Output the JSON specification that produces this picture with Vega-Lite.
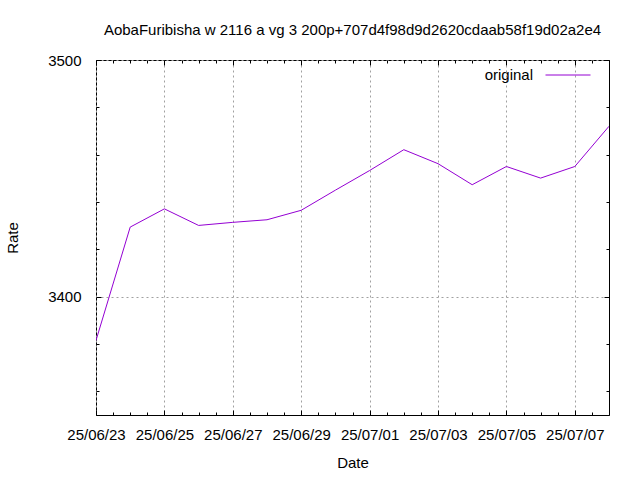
{
  "$schema": "https://vega.github.io/schema/vega-lite/v6.json",
  "autosize": "none",
  "width": 513,
  "height": 355,
  "padding": {"left": 96, "top": 60, "right": 31, "bottom": 65},
  "background": "white",
  "config": {
    "font": "Liberation Sans",
    "view": {"stroke": "#000000", "strokeWidth": 1},
    "axis": {
      "domain": false,
      "labelFont": "Liberation Sans",
      "labelFontSize": 15,
      "labelColor": "#000000",
      "titleFont": "Liberation Sans",
      "titleFontSize": 15,
      "titleFontWeight": "normal",
      "titleColor": "#000000",
      "tickColor": "#000000",
      "tickWidth": 1,
      "gridColor": "#a0a0a0",
      "gridDash": [2, 3],
      "gridWidth": 1,
      "gridOpacity": 1,
      "labelOverlap": false,
      "labelBound": false,
      "labelFlush": false
    },
    "legend": {"labelFont": "Liberation Sans", "labelFontSize": 15, "labelColor": "#000000"}
  },
  "title": {
    "text": "AobaFuribisha w 2116 a vg 3 200p+707d4f98d9d2620cdaab58f19d02a2e4",
    "font": "Liberation Sans",
    "fontSize": 15,
    "fontWeight": "normal",
    "color": "#000000",
    "anchor": "middle",
    "offset": 14
  },
  "data": {
    "values": [
      {"date": "2025-06-23", "rate": 3381.5, "series": "original"},
      {"date": "2025-06-24", "rate": 3429.4, "series": "original"},
      {"date": "2025-06-25", "rate": 3437.1, "series": "original"},
      {"date": "2025-06-26", "rate": 3430.1, "series": "original"},
      {"date": "2025-06-27", "rate": 3431.4, "series": "original"},
      {"date": "2025-06-28", "rate": 3432.5, "series": "original"},
      {"date": "2025-06-29", "rate": 3436.5, "series": "original"},
      {"date": "2025-06-30", "rate": 3445.0, "series": "original"},
      {"date": "2025-07-01", "rate": 3453.3, "series": "original"},
      {"date": "2025-07-02", "rate": 3462.1, "series": "original"},
      {"date": "2025-07-03", "rate": 3456.2, "series": "original"},
      {"date": "2025-07-04", "rate": 3447.3, "series": "original"},
      {"date": "2025-07-05", "rate": 3455.0, "series": "original"},
      {"date": "2025-07-06", "rate": 3450.1, "series": "original"},
      {"date": "2025-07-07", "rate": 3455.0, "series": "original"},
      {"date": "2025-07-08", "rate": 3472.0, "series": "original"}
    ]
  },
  "resolve": {"axis": {"x": "independent", "y": "independent"}},
  "layer": [
    {
      "mark": {"type": "line", "strokeWidth": 1, "clip": true},
      "encoding": {
        "x": {
          "field": "date", "type": "temporal",
          "scale": {"type": "utc", "domain": [1750636800000, 1751932800000]},
          "axis": {
            "orient": "bottom",
            "title": "Date",
            "values": [1750636800000, 1750809600000, 1750982400000, 1751155200000, 1751328000000, 1751500800000, 1751673600000, 1751846400000],
            "labelExpr": "utcFormat(datum.value, '%y/%m/%d')",
            "tickSize": -5,
            "labelPadding": 17,
            "titlePadding": 13,
            "grid": true
          }
        },
        "y": {
          "field": "rate", "type": "quantitative",
          "scale": {"domain": [3350, 3500], "nice": false, "zero": false},
          "axis": {
            "orient": "left",
            "title": "Rate",
            "values": [3400, 3500],
            "format": "d",
            "tickSize": -5,
            "labelPadding": 20,
            "titlePadding": 27,
            "grid": true
          }
        },
        "color": {
          "field": "series", "type": "nominal",
          "scale": {"range": ["#9400d3"]},
          "legend": {
            "title": null,
            "orient": "none",
            "legendX": 449,
            "legendY": -8,
            "symbolType": "stroke",
            "symbolSize": 2025,
            "symbolStrokeWidth": 1,
            "labelAlign": "right",
            "labelOffset": -58,
            "padding": 0
          }
        }
      }
    },
    {
      "mark": {"type": "line", "strokeOpacity": 0},
      "encoding": {
        "x": {
          "field": "date", "type": "temporal",
          "axis": {
            "orient": "bottom", "title": null, "labels": false, "grid": false, "tickSize": -3,
            "values": [1750636800000, 1750680000000, 1750723200000, 1750766400000, 1750809600000, 1750852800000, 1750896000000, 1750939200000, 1750982400000, 1751025600000, 1751068800000, 1751112000000, 1751155200000, 1751198400000, 1751241600000, 1751284800000, 1751328000000, 1751371200000, 1751414400000, 1751457600000, 1751500800000, 1751544000000, 1751587200000, 1751630400000, 1751673600000, 1751716800000, 1751760000000, 1751803200000, 1751846400000, 1751889600000, 1751932800000]
          }
        },
        "y": {
          "field": "rate", "type": "quantitative",
          "axis": {
            "orient": "left", "title": null, "labels": false, "grid": false, "tickSize": -3,
            "values": [3360, 3380, 3420, 3440, 3460, 3480]
          }
        }
      }
    },
    {
      "mark": {"type": "line", "strokeOpacity": 0},
      "encoding": {
        "x": {
          "field": "date", "type": "temporal",
          "axis": {
            "orient": "top", "title": null, "labels": false, "grid": false, "tickSize": -5,
            "values": [1750636800000, 1750809600000, 1750982400000, 1751155200000, 1751328000000, 1751500800000, 1751673600000, 1751846400000]
          }
        },
        "y": {
          "field": "rate", "type": "quantitative",
          "axis": {
            "orient": "right", "title": null, "labels": false, "grid": false, "tickSize": -5,
            "values": [3400, 3500]
          }
        }
      }
    },
    {
      "mark": {"type": "line", "strokeOpacity": 0},
      "encoding": {
        "x": {
          "field": "date", "type": "temporal",
          "axis": {
            "orient": "top", "title": null, "labels": false, "grid": false, "tickSize": -3,
            "values": [1750636800000, 1750680000000, 1750723200000, 1750766400000, 1750809600000, 1750852800000, 1750896000000, 1750939200000, 1750982400000, 1751025600000, 1751068800000, 1751112000000, 1751155200000, 1751198400000, 1751241600000, 1751284800000, 1751328000000, 1751371200000, 1751414400000, 1751457600000, 1751500800000, 1751544000000, 1751587200000, 1751630400000, 1751673600000, 1751716800000, 1751760000000, 1751803200000, 1751846400000, 1751889600000, 1751932800000]
          }
        },
        "y": {
          "field": "rate", "type": "quantitative",
          "axis": {
            "orient": "right", "title": null, "labels": false, "grid": false, "tickSize": -3,
            "values": [3360, 3380, 3420, 3440, 3460, 3480]
          }
        }
      }
    }
  ]
}
